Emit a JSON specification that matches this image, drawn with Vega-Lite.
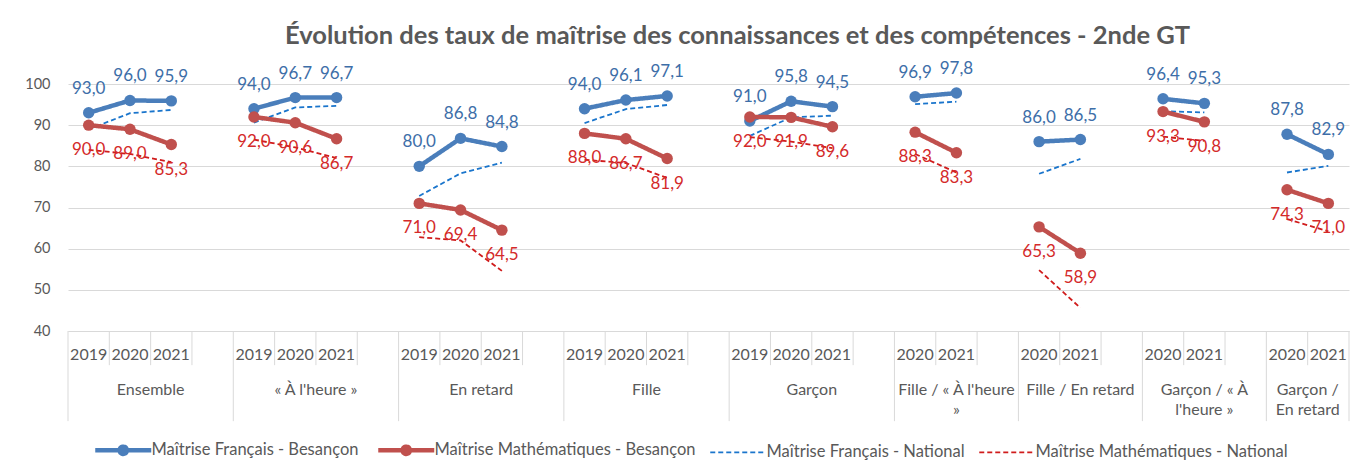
{
  "$schema": "https://vega.github.io/schema/vega-lite/v6.json",
  "width": 1281,
  "height": 247,
  "autosize": {"type": "none"},
  "padding": {"left": 68, "top": 84, "right": 11, "bottom": 139},
  "background": "white",
  "title": {
    "text": "Évolution des taux de maîtrise des connaissances et des compétences -  2nde GT",
    "font": "Lato", "fontSize": 25.5, "fontWeight": "bold", "color": "#595959",
    "anchor": "middle", "offset": 11, "dx": 29
  },
  "config": {
    "view": {"stroke": null},
    "font": "Lato",
    "locale": {"number": {"decimal": ",", "thousands": " ", "grouping": [3], "currency": ["", " €"]}}
  },
  "datasets": {
    "vals": [
      {"slot": 0, "groupe": "Ensemble", "annee": "2019", "fb": 93.0, "mb": 90.0, "fn": 89.0, "mn": 84.0},
      {"slot": 1, "groupe": "Ensemble", "annee": "2020", "fb": 96.0, "mb": 89.0, "fn": 92.9, "mn": 83.0},
      {"slot": 2, "groupe": "Ensemble", "annee": "2021", "fb": 95.9, "mb": 85.3, "fn": 93.7, "mn": 81.0},
      {"slot": 4, "groupe": "AH", "annee": "2019", "fb": 94.0, "mb": 92.0, "fn": 90.6, "mn": 86.5},
      {"slot": 5, "groupe": "AH", "annee": "2020", "fb": 96.7, "mb": 90.6, "fn": 94.3, "mn": 84.6},
      {"slot": 6, "groupe": "AH", "annee": "2021", "fb": 96.7, "mb": 86.7, "fn": 94.7, "mn": 82.0},
      {"slot": 8, "groupe": "ER", "annee": "2019", "fb": 80.0, "mb": 71.0, "fn": 72.8, "mn": 62.8},
      {"slot": 9, "groupe": "ER", "annee": "2020", "fb": 86.8, "mb": 69.4, "fn": 78.3, "mn": 62.0},
      {"slot": 10, "groupe": "ER", "annee": "2021", "fb": 84.8, "mb": 64.5, "fn": 80.9, "mn": 54.6},
      {"slot": 12, "groupe": "F", "annee": "2019", "fb": 94.0, "mb": 88.0, "fn": 90.5, "mn": 81.6},
      {"slot": 13, "groupe": "F", "annee": "2020", "fb": 96.1, "mb": 86.7, "fn": 93.9, "mn": 80.8},
      {"slot": 14, "groupe": "F", "annee": "2021", "fb": 97.1, "mb": 81.9, "fn": 94.9, "mn": 77.2},
      {"slot": 16, "groupe": "G", "annee": "2019", "fb": 91.0, "mb": 92.0, "fn": 87.4, "mn": 87.1},
      {"slot": 17, "groupe": "G", "annee": "2020", "fb": 95.8, "mb": 91.9, "fn": 91.9, "mn": 86.0},
      {"slot": 18, "groupe": "G", "annee": "2021", "fb": 94.5, "mb": 89.6, "fn": 92.3, "mn": 84.4},
      {"slot": 20, "groupe": "FAH", "annee": "2020", "fb": 96.9, "mb": 88.3, "fn": 95.1, "mn": 83.0},
      {"slot": 21, "groupe": "FAH", "annee": "2021", "fb": 97.8, "mb": 83.3, "fn": 95.7, "mn": 78.5},
      {"slot": 23, "groupe": "FER", "annee": "2020", "fb": 86.0, "mb": 65.3, "fn": 78.2, "mn": 54.8},
      {"slot": 24, "groupe": "FER", "annee": "2021", "fb": 86.5, "mb": 58.9, "fn": 81.8, "mn": 45.6},
      {"slot": 26, "groupe": "GAH", "annee": "2020", "fb": 96.4, "mb": 93.3, "fn": 93.4, "mn": 87.2},
      {"slot": 27, "groupe": "GAH", "annee": "2021", "fb": 95.3, "mb": 90.8, "fn": 93.1, "mn": 86.2},
      {"slot": 29, "groupe": "GER", "annee": "2020", "fb": 87.8, "mb": 74.3, "fn": 78.5, "mn": 67.2},
      {"slot": 30, "groupe": "GER", "annee": "2021", "fb": 82.9, "mb": 71.0, "fn": 80.1, "mn": 64.2}
    ],
    "groupes": [
      {"centre": 1.5, "libelle": "Ensemble"},
      {"centre": 5.5, "libelle": "« À l'heure »"},
      {"centre": 9.5, "libelle": "En retard"},
      {"centre": 13.5, "libelle": "Fille"},
      {"centre": 17.5, "libelle": "Garçon"},
      {"centre": 21, "libelle": "Fille / « À l'heure\n»"},
      {"centre": 24, "libelle": "Fille / En retard"},
      {"centre": 27, "libelle": "Garçon / « À\nl'heure »"},
      {"centre": 29.5, "libelle": "Garçon /\nEn retard"}
    ],
    "limites": [
      {"b": -0.5, "niveau": "groupe"}, {"b": 0.5, "niveau": "annee"}, {"b": 1.5, "niveau": "annee"}, {"b": 2.5, "niveau": "annee"},
      {"b": 3.5, "niveau": "groupe"}, {"b": 4.5, "niveau": "annee"}, {"b": 5.5, "niveau": "annee"}, {"b": 6.5, "niveau": "annee"},
      {"b": 7.5, "niveau": "groupe"}, {"b": 8.5, "niveau": "annee"}, {"b": 9.5, "niveau": "annee"}, {"b": 10.5, "niveau": "annee"},
      {"b": 11.5, "niveau": "groupe"}, {"b": 12.5, "niveau": "annee"}, {"b": 13.5, "niveau": "annee"}, {"b": 14.5, "niveau": "annee"},
      {"b": 15.5, "niveau": "groupe"}, {"b": 16.5, "niveau": "annee"}, {"b": 17.5, "niveau": "annee"}, {"b": 18.5, "niveau": "annee"},
      {"b": 19.5, "niveau": "groupe"}, {"b": 20.5, "niveau": "annee"}, {"b": 21.5, "niveau": "annee"},
      {"b": 22.5, "niveau": "groupe"}, {"b": 23.5, "niveau": "annee"}, {"b": 24.5, "niveau": "annee"},
      {"b": 25.5, "niveau": "groupe"}, {"b": 26.5, "niveau": "annee"}, {"b": 27.5, "niveau": "annee"},
      {"b": 28.5, "niveau": "groupe"}, {"b": 29.5, "niveau": "annee"},
      {"b": 30.5, "niveau": "groupe"}
    ]
  },
  "layer": [
    {
      "data": {"name": "limites"},
      "transform": [{"filter": "datum.niveau == 'groupe'"}],
      "mark": {"type": "rule", "color": "#d9d9d9", "strokeWidth": 1},
      "encoding": {
        "x": {"field": "b", "type": "quantitative", "scale": {"domain": [-0.5, 30.5], "nice": false, "zero": false},
              "axis": {"labels": false, "ticks": false, "title": null, "grid": false, "domainColor": "#d9d9d9", "domainWidth": 1}},
        "y": {"datum": 40, "type": "quantitative", "scale": {"domain": [40, 100], "nice": false, "zero": false},
              "axis": {"values": [40, 50, 60, 70, 80, 90, 100], "title": null, "domain": false, "ticks": false,
                       "grid": true, "gridColor": "#d9d9d9", "gridWidth": 1,
                       "labelFont": "Lato", "labelFontSize": 14.5, "labelColor": "#595959", "labelPadding": 18}},
        "y2": {"datum": 18.1}
      }
    },
    {
      "data": {"name": "limites"},
      "transform": [{"filter": "datum.niveau == 'annee'"}],
      "mark": {"type": "rule", "color": "#d9d9d9", "strokeWidth": 1},
      "encoding": {
        "x": {"field": "b", "type": "quantitative"},
        "y": {"datum": 40, "type": "quantitative"},
        "y2": {"datum": 31.7}
      }
    },
    {
      "data": {"name": "vals"},
      "mark": {"type": "text", "font": "Lato", "fontSize": 16, "color": "#595959", "baseline": "middle", "align": "center"},
      "encoding": {
        "x": {"field": "slot", "type": "quantitative"},
        "y": {"datum": 34.2, "type": "quantitative"},
        "text": {"field": "annee"}
      }
    },
    {
      "data": {"name": "groupes"},
      "mark": {"type": "text", "font": "Lato", "fontSize": 16, "color": "#595959", "baseline": "top", "align": "center", "lineBreak": "\n", "lineHeight": 20},
      "encoding": {
        "x": {"field": "centre", "type": "quantitative"},
        "y": {"datum": 27.6, "type": "quantitative"},
        "text": {"field": "libelle"}
      }
    },
    {
      "data": {"name": "vals"},
      "transform": [{"fold": ["fn", "mn"], "as": ["serie", "valeur"]}],
      "mark": {"type": "line", "strokeWidth": 1.8},
      "encoding": {
        "x": {"field": "slot", "type": "quantitative"},
        "y": {"field": "valeur", "type": "quantitative"},
        "detail": {"field": "groupe"},
        "color": {"field": "serie", "type": "nominal"},
        "strokeDash": {"field": "serie", "type": "nominal"}
      }
    },
    {
      "data": {"name": "vals"},
      "transform": [{"fold": ["fb", "mb"], "as": ["serie", "valeur"]}],
      "mark": {"type": "line", "strokeWidth": 4.5},
      "encoding": {
        "x": {"field": "slot", "type": "quantitative"},
        "y": {"field": "valeur", "type": "quantitative"},
        "detail": {"field": "groupe"},
        "color": {"field": "serie", "type": "nominal",
                  "scale": {"domain": ["fb", "mb", "fn", "mn"], "range": ["#4a7ebb", "#c0504d", "#1a75cc", "#d01c1c"]},
                  "legend": {"orient": "none", "direction": "horizontal", "legendX": 47, "legendY": 358, "title": null,
                             "symbolType": "stroke", "symbolSize": 3136, "labelFont": "Lato", "labelFontSize": 16.5,
                             "labelColor": "#595959", "labelOffset": 20, "columnPadding": 10,
                             "labelLimit": 400,
                             "labelExpr": "datum.label == 'fb' ? 'Maîtrise Français - Besançon' : datum.label == 'mb' ? 'Maîtrise Mathématiques - Besançon' : datum.label == 'fn' ? 'Maîtrise Français - National' : 'Maîtrise Mathématiques - National'",
                             "encode": {"symbols": {"update": {
                               "size": {"value": 3136},
                               "shape": {"signal": "datum.value == 'fb' || datum.value == 'mb' ? 'M-1,0H1M0.13,0A0.13,0.13 0 1,1 -0.13,0A0.13,0.13 0 1,1 0.13,0' : 'M-1,0H1'"},
                               "strokeWidth": {"signal": "datum.value == 'fb' || datum.value == 'mb' ? 4.5 : 1.8"},
                               "fill": {"signal": "datum.value == 'fb' ? '#4a7ebb' : datum.value == 'mb' ? '#c0504d' : 'transparent'"}
                             }}}}},
        "strokeDash": {"field": "serie", "type": "nominal",
                       "scale": {"domain": ["fb", "mb", "fn", "mn"], "range": [[1, 0], [1, 0], [5, 3], [5, 3]]}}
      }
    },
    {
      "data": {"name": "vals"},
      "transform": [{"fold": ["fb", "mb"], "as": ["serie", "valeur"]}],
      "mark": {"type": "point", "filled": true, "opacity": 1, "size": 130},
      "encoding": {
        "x": {"field": "slot", "type": "quantitative"},
        "y": {"field": "valeur", "type": "quantitative"},
        "color": {"field": "serie", "type": "nominal", "legend": null}
      }
    },
    {
      "data": {"name": "vals"},
      "mark": {"type": "text", "font": "Lato", "fontSize": 17, "color": "#3d6ea8", "dy": -24, "baseline": "middle"},
      "encoding": {
        "x": {"field": "slot", "type": "quantitative"},
        "y": {"field": "fb", "type": "quantitative"},
        "text": {"field": "fb", "type": "quantitative", "format": ".1f"}
      }
    },
    {
      "data": {"name": "vals"},
      "mark": {"type": "text", "font": "Lato", "fontSize": 17, "color": "#d42a2a", "dy": 25, "baseline": "middle"},
      "encoding": {
        "x": {"field": "slot", "type": "quantitative"},
        "y": {"field": "mb", "type": "quantitative"},
        "text": {"field": "mb", "type": "quantitative", "format": ".1f"}
      }
    }
  ]
}
